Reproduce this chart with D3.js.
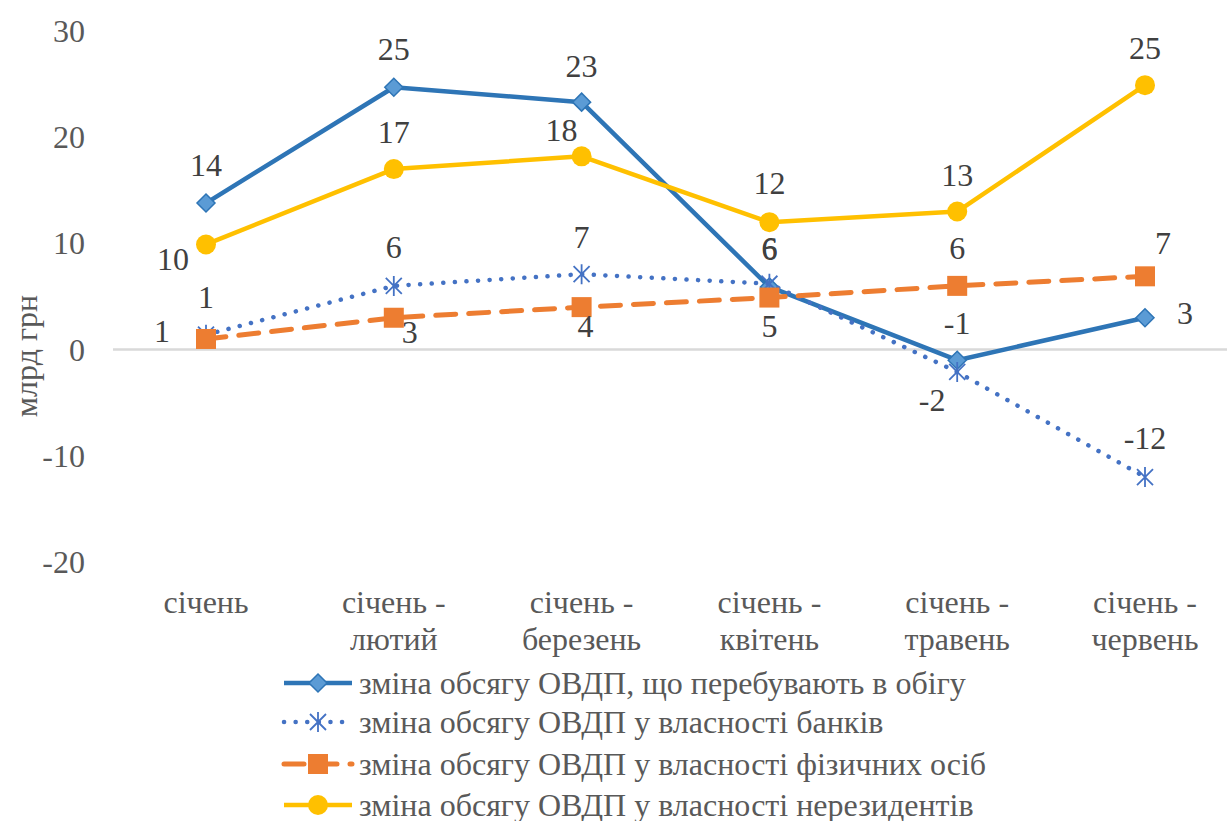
<!DOCTYPE html>
<html>
<head>
<meta charset="utf-8">
<script src="https://cdn.jsdelivr.net/npm/d3@7"></script>
</head>
<body style="margin:0">
<svg id="chart" width="1227" height="821"></svg>
<script>
// categories (two-line labels)
var categories = [
  ['січень'],
  ['січень -', 'лютий'],
  ['січень -', 'березень'],
  ['січень -', 'квітень'],
  ['січень -', 'травень'],
  ['січень -', 'червень']
];
var yTicks = [-20, -10, 0, 10, 20, 30];

// series values, млрд грн
var circulation = [13.8, 24.7, 23.3, 5.9, -1.0, 3.0];
var banks       = [1.4, 6.0, 7.1, 6.2, -2.1, -12.0];
var individuals = [1.0, 3.0, 4.0, 4.9, 6.0, 6.9];
var nonresidents = [9.9, 17.0, 18.2, 12.0, 13.0, 24.9];

var seriesNames = [
  'зміна обсягу ОВДП, що перебувають в обігу',
  'зміна обсягу ОВДП у власності банків',
  'зміна обсягу ОВДП у власності фізичних осіб',
  'зміна обсягу ОВДП у власності нерезидентів'
];

// where each data label sits relative to its point [dx, dy]
var labelOffsets = [
  [[0,-38],[0,-38],[0,-36],[0,-38],[0,-37],[40,-5]],
  [[0,-38],[0,-39],[0,-37],[0,-36],[-25,28],[0,-39]],
  [[-44,-8],[16,14],[4,19],[0,28],[0,-38],[18,-33]],
  [[-33,15],[0,-37],[-20,-26],[0,-39],[0,-37],[0,-37]]
];

var W = 1227, H = 821;
var svg = d3.select('#chart');

var x = d3.scalePoint().domain(d3.range(categories.length)).range([206, 1145]);
var y = d3.scaleLinear().domain([-20, 30]).range([562, 31]);

var series = [
  {name: seriesNames[0], values: circulation, color: '#2e75b6', dash: null, width: 4.5, marker: 'diamond'},
  {name: seriesNames[1], values: banks, color: '#4472c4', dash: '0.1 11.5', width: 4.5, marker: 'star', cap: 'round'},
  {name: seriesNames[2], values: individuals, color: '#ed7d31', dash: '20 13', width: 5, marker: 'square', cap: 'round'},
  {name: seriesNames[3], values: nonresidents, color: '#ffc000', dash: null, width: 4.5, marker: 'circle'}
];

function num(d) { return String(Math.round(d)); }

// y tick labels
svg.append('g').selectAll('text')
  .data(yTicks).enter().append('text')
  .attr('x', 85)
  .attr('y', function(d) { return y(d); })
  .attr('text-anchor', 'end')
  .attr('dominant-baseline', 'central')
  .style('font-family', 'Liberation Serif')
  .attr('font-size', 32)
  .attr('fill', '#595959')
  .text(num);

// zero line
svg.append('line')
  .attr('x1', 113).attr('x2', W)
  .attr('y1', y(0)).attr('y2', y(0))
  .attr('stroke', '#d9d9d9').attr('stroke-width', 2.5);

// category labels
var cat = svg.append('g').selectAll('text')
  .data(categories).enter().append('text')
  .attr('x', function(d, i) { return x(i); })
  .attr('y', 613)
  .attr('text-anchor', 'middle')
  .style('font-family', 'Liberation Serif')
  .attr('font-size', 32)
  .attr('fill', '#595959');
cat.each(function(d, i) {
  var t = d3.select(this);
  d.forEach(function(s, k) {
    t.append('tspan').attr('x', x(i)).attr('dy', k === 0 ? 0 : 37).text(s);
  });
});

// y title
svg.append('text')
  .attr('transform', 'translate(26,356) rotate(-90)')
  .attr('text-anchor', 'middle')
  .attr('dominant-baseline', 'central')
  .style('font-family', 'Liberation Serif')
  .attr('font-size', 32)
  .attr('fill', '#595959')
  .text('млрд грн');

function drawMarker(g, type, color, cx, cy) {
  if (type === 'diamond') {
    var r = 9;
    g.append('path')
      .attr('d', 'M' + cx + ',' + (cy - r) + 'L' + (cx + r) + ',' + cy + 'L' + cx + ',' + (cy + r) + 'L' + (cx - r) + ',' + cy + 'Z')
      .attr('fill', '#5b9bd5').attr('stroke', color).attr('stroke-width', 1.5);
  } else if (type === 'square') {
    g.append('rect').attr('x', cx - 10).attr('y', cy - 10).attr('width', 20).attr('height', 20)
      .attr('fill', color);
  } else if (type === 'circle') {
    g.append('circle').attr('cx', cx).attr('cy', cy).attr('r', 10).attr('fill', color);
  } else if (type === 'star') {
    var a = 8;
    var p = 'M' + (cx - a) + ',' + (cy - a) + 'L' + (cx + a) + ',' + (cy + a) +
            'M' + (cx + a) + ',' + (cy - a) + 'L' + (cx - a) + ',' + (cy + a) +
            'M' + cx + ',' + (cy - 10) + 'L' + cx + ',' + (cy + 10);
    g.append('path').attr('d', p).attr('stroke', color).attr('stroke-width', 1.8).attr('fill', 'none');
  }
}

var line = d3.line()
  .x(function(d, i) { return x(i); })
  .y(function(d) { return y(d); });

var plot = svg.append('g');
series.forEach(function(s) {
  var g = plot.append('g');
  g.append('path')
    .datum(s.values)
    .attr('d', line)
    .attr('fill', 'none')
    .attr('stroke', s.color)
    .attr('stroke-width', s.width)
    .attr('stroke-linecap', s.cap || 'butt')
    .attr('stroke-linejoin', 'round')
    .attr('stroke-dasharray', s.dash);
  s.values.forEach(function(v, i) {
    drawMarker(g, s.marker, s.color, x(i), y(v));
  });
});

// data labels
series.forEach(function(s, si) {
  plot.append('g').selectAll('text')
    .data(s.values).enter().append('text')
    .attr('x', function(d, i) { return x(i) + labelOffsets[si][i][0]; })
    .attr('y', function(d, i) { return y(d) + labelOffsets[si][i][1]; })
    .attr('text-anchor', 'middle')
    .attr('dominant-baseline', 'central')
    .style('font-family', 'Liberation Serif')
    .attr('font-size', 32)
    .attr('fill', '#404040')
    .text(num);
});

// legend
var legendY = [683, 722, 764, 805];
var leg = svg.append('g');
series.forEach(function(s, i) {
  var g = leg.append('g');
  g.append('line')
    .attr('x1', 284).attr('x2', 352)
    .attr('y1', legendY[i]).attr('y2', legendY[i])
    .attr('stroke', s.color).attr('stroke-width', s.width)
    .attr('stroke-linecap', s.cap || 'butt')
    .attr('stroke-dasharray', s.dash);
  drawMarker(g, s.marker, s.color, 318, legendY[i]);
  g.append('text')
    .attr('x', 359).attr('y', legendY[i])
    .attr('dominant-baseline', 'central')
    .style('font-family', 'Liberation Serif')
    .attr('font-size', 32)
    .attr('fill', '#595959')
    .text(s.name);
});
</script>
</body>
</html>
